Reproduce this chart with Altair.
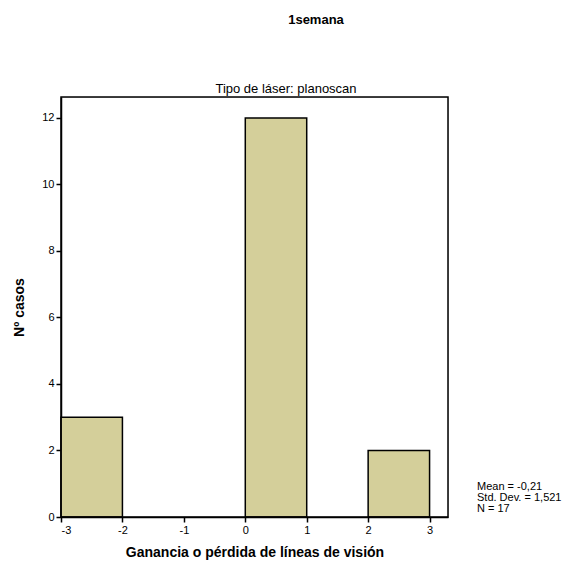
import altair as alt
import pandas as pd

bin_start = [-3, -2, -1, 0, 1, 2]
bin_end = [-2, -1, 0, 1, 2, 3]
counts = [3, 0, 0, 12, 0, 2]
x_ticks = [-3, -2, -1, 0, 1, 2, 3]
y_ticks = [0, 2, 4, 6, 8, 10, 12]
stats_lines = ["Mean = -0,21", "Std. Dev. = 1,521", "N = 17"]

df = pd.DataFrame({"x0": bin_start, "x1": bin_end, "n": counts})
df = df[df["n"] > 0]

FONT = "Liberation Sans"
W, H = 387, 420

bars = alt.Chart(df).mark_rect(
    fill="#d4cf9a", stroke="black", strokeWidth=1.5
).encode(
    x=alt.X("x0:Q", scale=alt.Scale(domain=[-3, 3.3], nice=False, zero=False),
            axis=alt.Axis(values=x_ticks, title="Ganancia o pérdida de líneas de visión",
                          labelExpr="toString(datum.value)",
                          grid=False, domainColor="black", domainWidth=1.5,
                          tickColor="black", tickWidth=1.5, tickSize=5,
                          labelFont=FONT, labelFontSize=11, labelColor="black",
                          titleFont=FONT, titleFontSize=14, titleFontWeight="bold",
                          titleColor="black", titlePadding=10, labelPadding=2)),
    x2="x1:Q",
    y=alt.Y("n:Q", scale=alt.Scale(domain=[0, 12.63], nice=False),
            axis=alt.Axis(values=y_ticks, title="Nº casos", grid=False,
                          domainColor="black", domainWidth=1.5,
                          tickColor="black", tickWidth=1.5, tickSize=5,
                          labelFont=FONT, labelFontSize=11, labelColor="black",
                          titleFont=FONT, titleFontSize=14, titleFontWeight="bold",
                          titleColor="black", titlePadding=15, labelPadding=2)),
    y2=alt.datum(0),
)

frame = alt.Chart(pd.DataFrame({"f": [1]})).mark_rect(
    fill=None, stroke="black", strokeWidth=1.5
).encode(x=alt.value(0), x2=alt.value(W), y=alt.value(0), y2=alt.value(H))

title = alt.Chart(pd.DataFrame({"t": ["1semana"]})).mark_text(
    font=FONT, fontSize=13, fontWeight="bold", color="black", align="center", baseline="middle"
).encode(x=alt.value(255), y=alt.value(-77), text="t:N")

sub = alt.Chart(pd.DataFrame({"t": ["Tipo de láser: planoscan"]})).mark_text(
    font=FONT, fontSize=13, color="black", align="center", baseline="alphabetic"
).encode(x=alt.value(225), y=alt.value(-4), text="t:N")

stats_df = pd.DataFrame({"t": stats_lines, "yy": [390, 401, 412]})
stats = alt.Chart(stats_df).mark_text(
    font=FONT, fontSize=11, color="black", align="left", baseline="middle"
).encode(
    x=alt.value(416),
    y=alt.Y("yy:Q", scale=alt.Scale(domain=[0, H], range=[0, H]), axis=None),
    text="t:N",
)

chart = alt.layer(bars, frame, title, sub, stats).resolve_scale(y="independent").properties(
    width=W, height=H,
    autosize=alt.AutoSizeParams(type="none"),
    padding={"left": 53, "top": 89, "right": 120, "bottom": 46},
).configure_view(strokeWidth=0).configure(background="white")

chart.save("out.html", embed_options={"renderer": "svg", "actions": False})
